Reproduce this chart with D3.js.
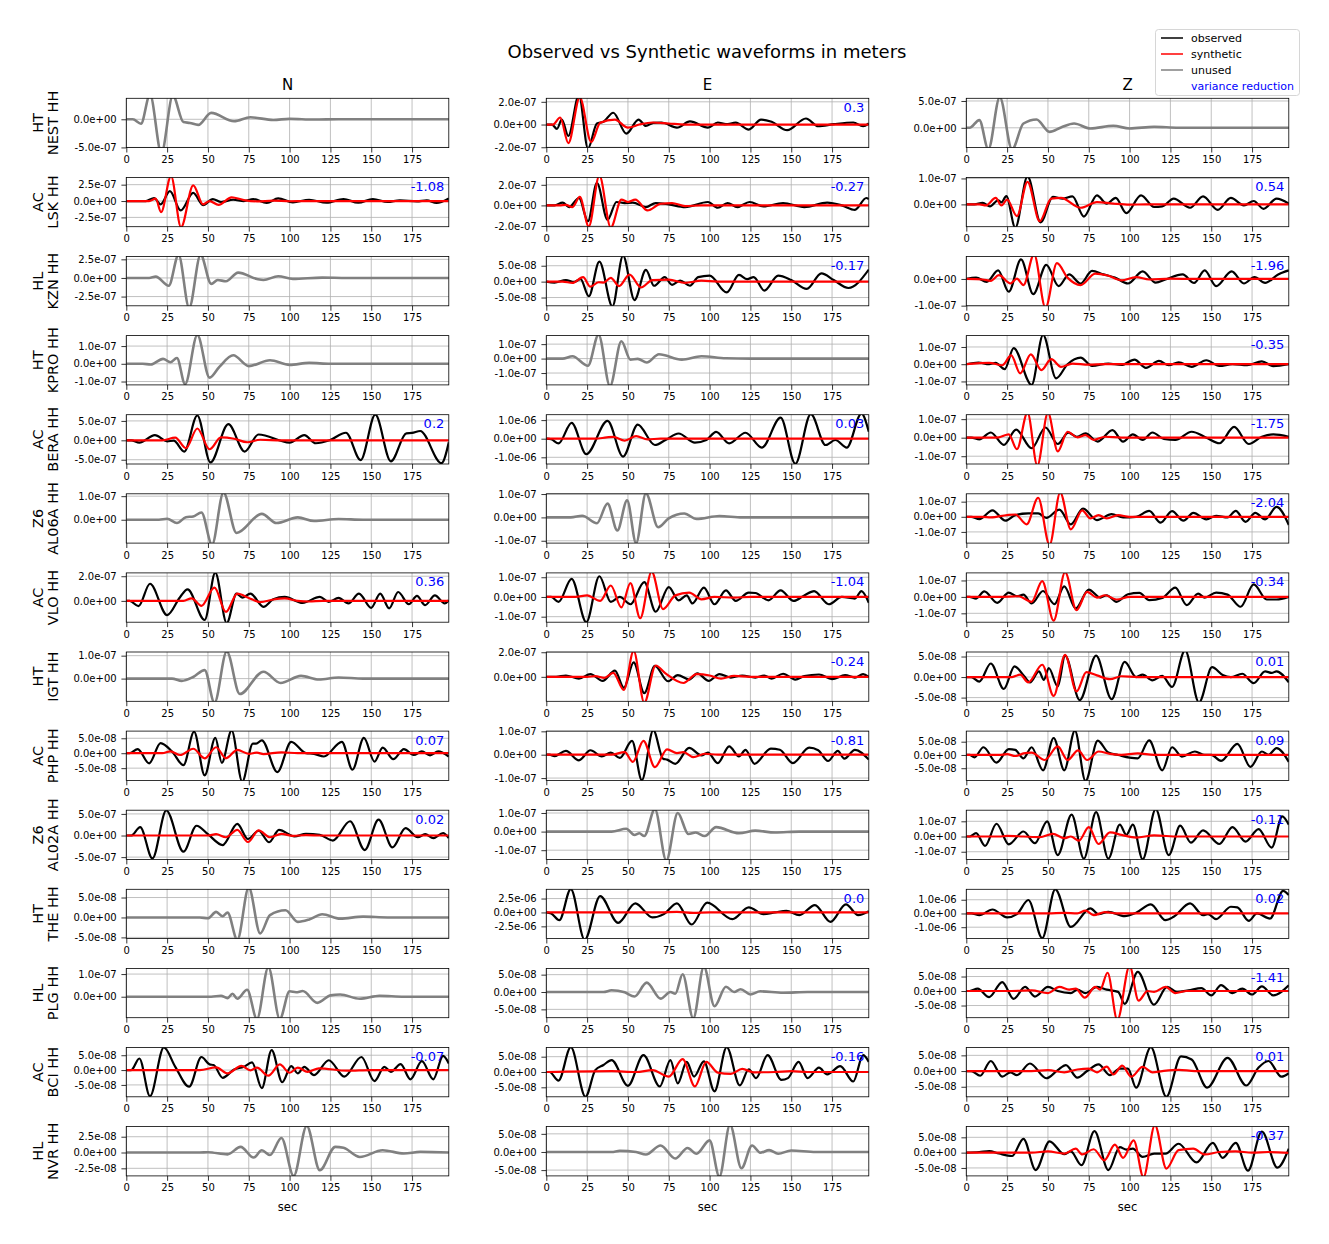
<!DOCTYPE html>
<html>
<head>
<meta charset="utf-8">
<script src="https://cdn.jsdelivr.net/npm/d3@7"></script>
<style>
  body { margin: 0; background: #fff; }
  text { font-family: "DejaVu Sans", sans-serif; }
</style>
</head>
<body>
<svg id="chart"></svg>
<script>
// waveforms: flat lists of [time (s), displacement (1e-8 m)] at the peaks
// ---- N component
const NEST_N_unused = [0,0, 4,0, 9,-7.8, 14.5,44, 21.5,-60, 28.5,42, 35,-5, 39,-6.5, 44,-10, 52,11.4, 66,-3.6, 76,3.6, 90,-1.2, 100,0.8, 115,-0.4, 130,0.2, 145,0, 197.5,0]
const LSK_N_obs = [0,0, 12,0, 17,4.6, 21,-5, 26.7,15, 33.3,-14.4, 41,12.4, 47,-6.2, 53,3, 58,-1.5, 65.5,2, 72,0, 77.8,3, 86,-3, 93,4, 102,-2, 112,2, 122.6,-2.6, 133,3, 142,-2.6, 151,3, 160,-1.5, 167.5,1, 178,-0.5, 184,1, 190,-3, 197.5,4]
const LSK_N_syn = [0,0, 14,0, 18,3.6, 21.3,-17, 27.4,38, 33.5,-40, 41,24, 47,-5, 51,0, 56.5,-6, 64.5,5.7, 72,1.5, 80,-0.5, 90,0.5, 100,-0.3, 110,0, 197.5,0]
const KZN_N_unused = [0,0, 14,0, 18,1.8, 26,-10.4, 32,31, 38.5,-40, 45.5,31, 52,-8, 56,-2.7, 61,-4.5, 68.5,7.2, 80,-1.4, 84,-2.7, 93,2.2, 102,-1.3, 120,0.5, 135,0, 197.5,0]
const KPRO_N_unused = [0,0, 10,0, 15,-0.4, 22.5,2.8, 27,0.9, 31,3.3, 36,-11.5, 43.5,16.2, 51,-7.8, 57,-1.7, 65.5,4.8, 75,-1.3, 88,2, 100,-0.6, 112,0.5, 125,0, 197.5,0]
const BERA_N_obs = [0,0, 3,0, 8,-6, 17.5,13.5, 25,-2.5, 29,-1, 35.5,-29, 43.5,64, 51.5,-57, 62.5,41.5, 72.5,-29, 81,15, 100,-6, 109,13.5, 116,-7.6, 124.5,0, 134.5,19.5, 143.5,-51, 152.5,66, 162,-54, 171.5,18, 175,19, 180,24, 193,-59, 197.5,-5]
const BERA_N_syn = [0,0, 22,0, 30,6.8, 36.5,-20, 43.5,30.5, 51,-23, 58,7.6, 66,4, 74,-5, 82,1.5, 95,0, 197.5,0]
const AL06A_N_unused = [0,0, 20,0, 25,0.4, 31,-1.4, 36.5,1.1, 41,1.4, 46,3.1, 52.5,-10.5, 59.5,11.5, 67.5,-5.6, 83,2.5, 92,-1.4, 105,1, 115,-0.5, 130,0.3, 145,0, 197.5,0]
const VLO_N_obs = [0,0, 2,0, 7.5,-4.3, 14.5,13.9, 25,-11.5, 33,3.2, 37.5,9.3, 48,-15.5, 54.5,23, 61.5,-18, 67.5,5.9, 71,2.7, 76,5.9, 84,-4.8, 90,1.3, 97,3.2, 108,-1.6, 118.5,3.2, 124,-0.8, 130,2.4, 136,-2.1, 142.5,5.9, 150,-5.6, 155.5,5.9, 161,-6.1, 166.5,7.2, 173,-2.7, 178,4, 183,-3.5, 189,4.5, 195,-2.1, 197.5,0.5]
const VLO_N_syn = [0,0, 35,0, 40,2.1, 46,-4, 54,10.7, 61,-9, 68,5.9, 75,2.4, 82,-1, 90,1.1, 97,2, 105,0, 112,-0.5, 120,0, 197.5,0]
const IGT_N_unused = [0,0, 28,0, 34,-1, 41,0.7, 48,3.7, 54,-10.5, 61.5,11.8, 69.5,-6.7, 84,3, 94.5,-1.9, 107,1.2, 118,-0.4, 130,0.5, 145,0, 197.5,0]
const PHP_N_obs = [0,0, 2,0, 7,1.4, 14,-3.4, 21,3.4, 28,0.6, 35,-4, 41.5,7.2, 48,-7.4, 54.5,5.1, 58.5,-3.2, 64.5,7.6, 71,-9.5, 77.5,3.2, 79.5,3.2, 83,4.3, 92.5,-6.3, 101,3.8, 110,0, 115,-0.2, 121,-1.1, 132,3.8, 138.5,-5.5, 145.5,5.1, 152,-2.8, 157,1.9, 163.5,-2, 170,1.4, 176,-0.6, 181,0.6, 186,-0.7, 191,0.6, 197.5,-1.1]
const PHP_N_syn = [0,0, 22,0, 27,0.6, 33,-0.6, 41,1.5, 48,-1.7, 55,2, 61,-1.7, 68,1.1, 75,-0.2, 80,0.2, 84,-0.3, 95,0.3, 105,0, 197.5,0]
const AL02A_N_obs = [0,0, 3,0, 8.5,19.5, 16,-53, 24.5,58, 35,-37.5, 43,22.6, 50,3, 59,-22, 68,27, 74.5,-8, 81,11, 87.5,-15.6, 93.5,13, 103,-2, 110,4, 118.5,1.5, 126.5,-11.7, 137,33, 146,-33.6, 154.5,36.7, 163,-27.3, 171,17.2, 178.5,-3.9, 183,3, 188,-6.2, 194,5.5, 197.5,-6]
const AL02A_N_syn = [0,0, 50,0, 55,3, 61,-4, 68,13, 74.5,-15, 81,11.7, 88,-4, 95,4, 102,-0.8, 110,1, 120,0, 197.5,0]
const THE_N_unused = [0,0, 45,0, 50,-0.2, 55,1.4, 59,0.3, 62,1.2, 68,-5.6, 75,7.5, 82,-4, 88,0.6, 97.5,1.8, 105,-1.1, 112,-0.5, 120,0.8, 131,-0.3, 145,0.2, 160,0, 197.5,0]
const PLG_N_unused = [0,0, 52,0, 58,0.4, 62,-0.6, 65,1.3, 68,-0.9, 74,3.1, 80,-9.8, 87,13, 94,-9.8, 100,2.4, 104,2, 108,2.5, 117,-2.7, 125,0.6, 131,1, 143,-0.9, 155,0.4, 170,0, 197.5,0]
const BCI_N_obs = [0,0, 3,0, 8,3.9, 14.5,-8.8, 23,7.6, 30,1.1, 38.5,-5.6, 46,4.4, 51,1.9, 53.5,1.7, 59,-2.6, 66,0.2, 72,1.1, 77,2.6, 83,-6.1, 89,6.7, 95.5,-4.1, 101,1.3, 105,-1.1, 109,1.1, 115,-1.7, 124,3.3, 133.5,-2.2, 144,4.4, 152,-3.7, 158,1.1, 162,-0.6, 168,2, 174,-3.1, 181,3, 188,-3.1, 194,4.8, 197.5,2.2]
const BCI_N_syn = [0,0, 45,0, 55,0.9, 62,-1.1, 70.5,1.4, 76,-0.1, 80,0.8, 87,-1.9, 94,1.9, 100,-0.9, 105,0.8, 111,-0.6, 118,0.6, 135,-0.2, 150,0, 197.5,0]
const NVR_N_unused = [0,0, 45,0, 50,0.05, 62,-0.3, 70,0.9, 78,-0.8, 83,0.35, 88,-0.4, 95,2.3, 102.5,-3.7, 110.5,4.2, 118.5,-2.8, 128,0.9, 133,0.75, 143,-0.7, 157,0.35, 170,-0.15, 180,0.1, 197.5,0]

// ---- E component
const NEST_E_obs = [0,0, 3.5,0, 6.5,-3.9, 9.5,4.4, 13.5,-10, 20,26, 25.5,-21, 31,0.9, 35,2.4, 41,10.4, 49,-8, 56.5,4.4, 61,-1.2, 65.5,1.5, 70.5,1.8, 80,-2.7, 88,2.7, 99,-2.7, 105,1.8, 110,0.3, 116,1.6, 124,-4.4, 131.5,4.4, 138,2.4, 147.5,-5, 159,5.3, 166.5,-1.5, 176,0.3, 188,1.8, 194,-1.5, 197.5,0.9]
const NEST_E_syn = [0,0, 4,0, 8.5,6.2, 13.5,-16.3, 20.5,24, 27.5,-15.4, 33,1.5, 42,4.4, 50,-2.7, 57,0, 65,1.8, 75,0.9, 85,0, 197.5,0]
const LSK_E_obs = [0,0, 5,0, 10,2.6, 14,-1.6, 20,7.2, 25.5,-15.4, 31,22, 37.5,-14.1, 43,3.3, 48,2.3, 53,2.6, 61,-1.6, 67,2.3, 75,1, 85,-1.6, 99,3.3, 105,-2.3, 111,2.3, 117,-1.6, 124.5,3.3, 133,-1, 145,2.3, 158,-1.6, 172,2.6, 181,0, 189,-4.3, 196,7.2, 197.5,6]
const LSK_E_syn = [0,0, 8,0, 12,0.6, 16,-1.6, 20.5,8.2, 26,-20.5, 32.5,29, 39.5,-21.5, 46,5.6, 50,3.3, 54.5,5.6, 62,-4.9, 70,1.6, 77,2.3, 85,-0.7, 95,0, 197.5,0]
const KZN_E_obs = [0,0, 5,-0.3, 12,0.5, 17,-0.1, 21,0.8, 26,-4.6, 32.5,6.3, 40.5,-7.8, 47,8.2, 54,-5.8, 61,3.7, 66,-1.3, 72.5,1.4, 77,-1, 82,0.3, 88,-1.3, 93,1.4, 100,1.9, 110.5,-3.4, 118,2.1, 123,0.8, 127,1.4, 133.5,-2.8, 142,1.9, 150,0.5, 159.5,-2.3, 168.5,2.6, 176,0.5, 185,-2, 197.5,3.8]
const KZN_E_syn = [0,0, 10,0, 16,-0.4, 22.5,1.4, 27,-1.6, 32,-0.2, 35,-0.3, 39.5,1.2, 44.5,-1.4, 51,2.2, 58,-1.8, 65,0.5, 75,0.6, 85,-0.4, 95,0.3, 105,0, 197.5,0]
const KPRO_E_unused = [0,0, 10,0, 16,1.6, 25.5,-5, 32,16.5, 39,-19, 46,12, 51.5,-0.7, 56,-0.2, 61.5,-2.7, 69,3, 83,-0.7, 95,1.6, 110,0.2, 125,0, 197.5,0]
const BERA_E_obs = [0,0, 3,-3, 7.5,-25, 15.5,85, 24.5,-83, 37.5,96, 47,-96, 56,76, 66.5,-34, 73,-7, 81,28, 91,-21, 98,-7, 104,37, 112,-25, 122,32, 132,-48, 143.5,113, 152.5,-135, 162,132, 171,-34, 177,-7, 184,-48, 193,135, 197.5,37]
const BERA_E_syn = [0,0, 30,0, 37,7, 41,10, 48,-10.6, 55,14, 62,-3.5, 70,0, 197.5,0]
const AL06A_E_unused = [0,0, 15,0, 22,0.7, 31,-2.5, 37.5,5.9, 43.5,-5.6, 49.5,7.3, 55,-11, 61,10.3, 68.5,-4.2, 75,-0.4, 84.5,1.7, 92,-0.7, 106,0.6, 120,0, 197.5,0]
const VLO_E_obs = [0,0, 3,0, 7.5,-2.5, 15.5,9.2, 24.5,-12.8, 32.5,10.5, 39.5,-2.5, 45,0, 51.5,-3.7, 60,7.5, 67,-7.5, 75,5, 81,-1.7, 86,0.8, 89.5,-3.3, 96.5,4.7, 103,-3.7, 110,3.3, 116,-2, 124,2.2, 128,2, 136,-1.7, 143.5,3.3, 151.5,-2, 158,0.8, 164,3, 173,-3.7, 181,0, 189,-0.8, 193,3, 197.5,-3]
const VLO_E_syn = [0,0, 18,0, 25,0.8, 33,-2, 39.5,5.8, 46,-5.3, 51.5,7, 57.5,-10.8, 64.5,12.8, 71.5,-6.2, 79,0.8, 87.5,2.2, 95,-1.2, 103,0, 115,-0.3, 125,0, 197.5,0]
const IGT_E_obs = [0,0, 6,0, 12,1.1, 20,-1.4, 27,2.2, 34.5,-3.3, 42,5, 47.5,-8.9, 53.5,11.7, 60,-13.3, 66.5,8.9, 74.5,-3.6, 80.5,1.4, 87.5,-2.2, 92.5,2.8, 99.5,-3.3, 106,2.2, 113,-0.6, 120,1.1, 128,-0.6, 133.5,1.1, 138,-1.4, 145,2.5, 152.5,-2.2, 158,0.6, 167,1.9, 175,-1.9, 183,1.4, 189,-0.6, 194,2.2, 197.5,0]
const IGT_E_syn = [0,0, 25,0, 30,0.6, 35.5,-0.8, 41,3.3, 47.5,-10.6, 53.5,21, 60,-21, 67,9.2, 73,2.8, 84,-5, 92,2.2, 100,1.1, 107,-1.4, 115,0.8, 125,0, 197.5,0]
const PHP_E_obs = [0,0, 2,0, 5,-0.6, 12,1.6, 20,-2.4, 27,1.9, 34,-0.7, 39.5,0.9, 45,-1.4, 52.5,5.9, 58.5,-10.9, 65.5,10.5, 71.5,-1.7, 74,-2.1, 79,-3.9, 87.5,2.9, 95,-0.3, 99,0.9, 105,-3.6, 112,3.6, 118,-0.7, 122,2.1, 127.5,-3.9, 137.5,2.6, 143,2.1, 151,-3.6, 161,3, 166.5,1.9, 172.5,-2.7, 178.5,1.6, 182.5,-1.7, 189,2.1, 197.5,-2.1]
const PHP_E_syn = [0,0, 40,0, 48,1.1, 53,-3.1, 59.5,5.9, 66.5,-5.3, 74,2.3, 80,0.7, 84,1.1, 90,-1, 97,0.4, 105,0, 197.5,0]
const AL02A_E_unused = [0,0, 40,0, 49,1.5, 54,-1.8, 57,-0.9, 60,-2.4, 66.5,12, 73.5,-15.5, 80.5,10, 87,-1.3, 91.5,-0.5, 97,-2.4, 104,2.4, 118,-0.9, 128,0.5, 140,-0.5, 155,0, 197.5,0]
const THE_E_obs = [0,0, 3,-18, 8,-139, 15,420, 23.5,-490, 33,295, 44,-187, 54.5,163, 65,-90, 72,-30, 80,163, 89,-217, 98.5,175, 114,-120, 124,90, 133,-30, 140,0, 147,30, 155,-48, 164.5,133, 174,-169, 183.5,145, 191,-48, 197.5,24]
const THE_E_syn = [0,0, 70,0, 80,12, 90,-6, 100,0, 197.5,0]
const PLG_E_unused = [0,0, 35,0, 40,0.5, 48,-0.1, 54,-1.3, 61.5,2.7, 70,-1.9, 76,0, 79,-0.5, 83.5,5.1, 90,-7.6, 96.5,7.3, 103,-4.1, 110,1.5, 115,0, 119,0.8, 125,-0.7, 131,0.2, 145,-0.2, 160,0, 197.5,0]
const BCI_E_obs = [0,0, 2,0, 7.5,-2.8, 15,8.1, 24,-8.1, 30,0.6, 35,2.3, 40,3.9, 50,-4.5, 59.5,5.5, 69.5,-4.7, 76,3.9, 80.5,-3.7, 86,3.3, 90.5,-1.5, 96.5,3.5, 103,-6.3, 110.5,8.1, 118.5,-4.4, 124,0.9, 128.5,-2, 135.5,5.5, 144,-2.6, 148,-2, 154.5,3.3, 160,-2, 167,1.4, 172,-0.8, 180,1.9, 188,-3.1, 194,5.5, 197.5,3.3]
const BCI_E_syn = [0,0, 40,0.3, 55,0, 65,0.6, 75,-1.5, 83.5,4.2, 91,-4.7, 98,3.3, 105,-0.2, 113,-0.6, 120,1, 127,-0.1, 140,0, 150,0.3, 160,0, 197.5,0]
const NVR_E_unused = [0,0, 40,0, 45,0.3, 55,0, 61,-0.7, 70,1.8, 79,-1.8, 86.5,1.1, 92,-0.5, 100,3.2, 106,-6.8, 112.5,7.5, 119.5,-4.5, 126,1.8, 131,-0.2, 136.5,0.5, 142,-0.5, 150,0.4, 165,0, 197.5,0]

// ---- Z component
const NEST_Z_unused = [0,0, 2,0, 8,14.4, 13.5,-40, 20.5,57, 28,-40, 35,8, 43,15.6, 51,-7.5, 58,0.6, 66,8, 76,-1.2, 90,3.7, 100,-1.2, 115,1.8, 130,0, 197.5,0]
const LSK_Z_obs = [0,0, 5,0, 10,0.6, 14.5,-0.8, 19.5,1.6, 21.5,0.8, 24.5,3.2, 30,-9, 37.5,10.8, 45.5,-6.9, 53,2.9, 59,2.2, 65,3.1, 72,-4.7, 80,3.5, 86,0.3, 91.5,2.5, 98,-3.4, 107,3.5, 115,-1, 120,-0.8, 127,2.2, 137,-1.3, 145,3.1, 154,-2.1, 162,2.5, 170,-0.4, 176,1.3, 182,-1.7, 190,2.2, 197.5,0.3]
const LSK_Z_syn = [0,0, 8,0, 12,-0.4, 18,2.5, 21.5,-0.4, 25,1.8, 31,-4.5, 37.5,8.7, 45,-6.5, 52,2.2, 58,2.5, 70,-1.3, 80,0.9, 90,0.3, 100,-0.1, 110,0, 197.5,0]
const KZN_Z_obs = [0,0, 6,0.5, 12.5,-1.1, 19.5,3.2, 26,-4.8, 33.5,7.3, 41,-5.7, 49,5.3, 56.5,-2.7, 63,1.7, 70,-1.7, 77,3, 84,1.7, 91,0.5, 99,-1.7, 108,2.8, 116,-1.4, 122,-0.2, 132.5,1.7, 139.5,-1.5, 146,3.2, 153,-2.7, 162.5,2.8, 170,-1.7, 176.5,0.7, 183,-1.5, 191,1.7, 197.5,3.2]
const KZN_Z_syn = [0,0, 10,-0.2, 15,-0.7, 20,1.4, 27,-1.7, 31,0.1, 35,-2.3, 41.5,9.2, 48.5,-10.8, 55.5,5.9, 62,0.5, 70,-2.3, 79,2, 86,1.4, 95,-0.5, 104,0.7, 112,-0.2, 125,0.1, 140,0, 197.5,0]
const KPRO_Z_obs = [0,0, 7.5,1, 14,0, 18,0.8, 23.5,-2.9, 29,9.3, 40,-12, 47,17, 55,-8.2, 62,0, 70,3.8, 77,-1, 87,0.4, 95,-0.4, 103,2.7, 110,-2.1, 118,1.9, 124,-0.6, 130,1.1, 138,-1.5, 147,2.3, 155,-1, 163,0, 172,-0.6, 181,1.7, 188,-1.1, 197.5,0]
const KPRO_Z_syn = [0,0, 14,0.8, 22,-0.6, 27.5,5.1, 33,-5.3, 39.5,5.7, 46,-3.4, 52,2.9, 58,-1.5, 65,0.4, 75,-0.2, 85,0, 197.5,0]
const BERA_Z_obs = [0,0, 3,0, 8,-0.9, 15,2.8, 23,-3.9, 30.5,4.4, 40,-5.7, 48.5,5.5, 56,-3.4, 62.5,2.7, 67.5,0.5, 73,2.3, 80.5,-2.1, 89.5,4.1, 96,-2.1, 102,1.8, 108,-1.2, 114,2.8, 121,-0.7, 128,-1.2, 138,3.2, 147,0, 155,-3, 164,5.8, 173,-3.4, 181,0.5, 188,1.8, 197.5,0.5]
const BERA_Z_syn = [0,0, 15,0, 20,0.2, 26,1.8, 31,-6.2, 37.5,13.5, 43.5,-15, 50,13.5, 56,-7.4, 62,3.2, 68,0.2, 73,1.4, 78,-1.2, 85,0.5, 95,0, 197.5,0]
const AL06A_Z_obs = [0,0, 3,0, 8,-1.5, 16,4.3, 24,-2.6, 30,1.1, 38,2.2, 44,2.2, 49,-0.7, 57,4.8, 64,-5, 71.5,5.4, 80,-2.2, 89,1.7, 96,-0.4, 104,0, 112,3.9, 119,-3.9, 126,3.7, 133,-2.6, 139,2.6, 147,-1.7, 153,0.7, 160,-0.4, 165,3.9, 171,-3.3, 177,2.6, 183,-1.7, 190,6.5, 197.5,-5.4]
const AL06A_Z_syn = [0,0, 10,0, 15,-0.4, 25,1.1, 30,1.5, 37,-5, 44,12.6, 51,-18.5, 57.5,16, 64,-8.3, 71,4.3, 76,-1.1, 81,1.1, 86,-1.1, 93,1.1, 100,0, 197.5,0]
const VLO_Z_obs = [0,0, 2,0, 6,-1, 11,3.4, 19,-3.6, 26,2.6, 31,0.4, 35,1.4, 40,-4, 47,3.6, 54,-4.4, 60,6.4, 67,-7, 75,4.4, 82,-0.4, 86,1, 92,-3, 99,1.6, 106,2.4, 112,-2, 120,-0.6, 128,5.6, 135,-5, 142,2, 146,-0.4, 153,2.6, 160,1.4, 168,-6, 176,7.6, 184,-1.6, 190,-1.6, 197.5,0]
const VLO_Z_syn = [0,0, 20,0, 32,0.4, 40,-3, 46.5,9.6, 53.5,-14.4, 60.5,15, 67.5,-8, 74,3, 80,-0.4, 85,1, 92,-1.6, 100,0, 197.5,0]
const IGT_Z_obs = [0,0, 3,0, 8,-1.1, 15,3.3, 23,-2.9, 29.5,2.6, 35.5,0.2, 39,-1.3, 44.5,1.4, 47.5,-0.7, 50.5,2.2, 56,-2.3, 60.5,5.2, 69.5,-5.6, 79.5,5.2, 89,-5.4, 97,3.7, 104,0, 108,0.6, 114,-0.8, 120,0.3, 126,-2.4, 134,6.5, 142.5,-6.2, 150.5,2.4, 157,0.5, 162,0, 169,0.8, 176,-1.5, 183,1.4, 187,1, 190,1.4, 197.5,-1.3]
const IGT_Z_syn = [0,0, 28,0, 33,0.6, 38,-1.3, 46.5,3, 53.5,-4.6, 60.5,5.4, 67.5,-3.5, 73.5,1.2, 80,0.4, 88,-0.5, 95,0.2, 105,0, 197.5,0]
const PHP_Z_obs = [0,0, 2,0, 5,-0.9, 10.5,2.9, 18.5,-2.9, 26,2.2, 30,1.9, 35,-1.3, 40,2.9, 47,-5.8, 53.5,6.4, 60,-5.8, 66.5,9.2, 73,-9.8, 80.5,5.4, 87,0.9, 93,0, 100,-1, 105,-1.3, 112,5.5, 120,-5.8, 126,2.9, 132,-0.6, 140,1.3, 146,0, 150,0, 156,-2.2, 166,4.2, 174,-4.5, 181,1.3, 185,0, 190,2.6, 197.5,-2.6]
const PHP_Z_syn = [0,0, 20,0, 25,0.3, 30,-0.4, 35,0.6, 40,0.9, 48,-1.9, 56,3.2, 62,-1.9, 68.5,1.7, 74,-1.9, 81,1.3, 88,0.4, 95,0, 105,0.6, 115,0, 197.5,0]
const AL02A_Z_obs = [0,0, 2,0, 6,2.2, 11.5,-6.2, 18.5,8.4, 26,-5.1, 35,3.3, 42,-4.4, 49.5,10, 56,-12.2, 64.5,14.4, 72,-14.5, 79.5,16, 87,-14.5, 94,7.8, 98,1.1, 102,7.8, 108,-15, 116,18, 124,-12.2, 131,7.1, 137.5,-4, 145,4, 155,-4.9, 163,6.2, 171,-3.3, 179,4.9, 187,-7.3, 193.5,13.3, 197.5,7.8]
const AL02A_Z_syn = [0,0, 20,0, 25,0.4, 35,0, 45,-0.4, 53,1.8, 60,-1.1, 64,0, 69,-2.7, 75,6.2, 81,-4.9, 88,2.7, 95,1.1, 104,-0.7, 115,0.7, 130,0, 197.5,0]
const THE_Z_obs = [0,0, 3,0, 8,-12, 16,29, 25,-29, 31,-5, 38,98, 46.5,-180, 54.5,176, 64,-98, 76,37, 81,-5, 87,12, 97,-20, 104,5, 113,66, 122,-49, 127,-24, 137,73, 145,-12, 148,-5, 153,-41, 162,49, 166,44, 173,-54, 178,0, 186,-37, 194,165, 197.5,134]
const THE_Z_syn = [0,0, 50,0, 60,5, 68,0, 73,20, 78,-12, 85,10, 92,0, 197.5,0]
const PLG_Z_obs = [0,0, 2,0, 7,0.8, 14,-2.1, 22,3.1, 29,-2.7, 36,1.4, 42,-1.9, 50,1.4, 56,0, 64,-0.7, 68,0.5, 73,-0.7, 80,1.4, 86,0.5, 93,-0.3, 97,-4.4, 105,6.6, 115,-4.7, 123,1.4, 129,-0.3, 136,0.2, 144,1, 150,-1.5, 156,2, 163,-0.7, 169,0.8, 175,-1.2, 181,1.6, 188,-1.5, 197.5,2]
const PLG_Z_syn = [0,0, 25,0, 40,0.2, 50,-0.7, 57,1.4, 63,0.5, 67,0.8, 72.5,-2.3, 79,1.4, 82,0.5, 86.5,6.3, 92.5,-10, 100,8.6, 105.5,-3.3, 111,0, 115,-0.3, 122,1.4, 128,-0.7, 135,0, 197.5,0]
const BCI_Z_obs = [0,0, 3,0, 8.5,-1.5, 15,3.2, 22,-1.8, 27,-0.4, 31,-1.3, 39,2.4, 49,-2.3, 56,0.3, 61,1.9, 68,-2.1, 74,0, 81,2.1, 88,-1.3, 94,0.8, 99,0.8, 104,-5.3, 113,7.6, 122.5,-8.2, 131.5,4.7, 138,3.7, 147.5,-5.3, 160,4.2, 171.5,-4.6, 179,1.1, 185,3.2, 193,-1.8, 197.5,-0.7]
const BCI_Z_syn = [0,0, 40,0, 50,0.3, 60,-0.4, 68,0.5, 75,0.8, 80,-0.4, 86,1.4, 90,-1.1, 95.5,1.7, 101,-1.8, 108,1.3, 114,-0.4, 120,0, 130,0.4, 140,0, 197.5,0]
const NVR_Z_obs = [0,0, 8,0.2, 14,0.5, 20,-0.3, 28,-1.1, 35,4.5, 42.5,-5.7, 51,3.7, 60,-0.5, 64,0.4, 70.5,-4.1, 78.5,7, 87,-5.7, 94,1.8, 98,1, 102,1.3, 108,-1.4, 115,-0.3, 122,-0.3, 130,2.9, 141,-3.2, 151,3.2, 157,-1.7, 165,3.2, 172.5,-5.9, 181,6.9, 190.5,-4.9, 197.5,1.3]
const NVR_Z_syn = [0,0, 40,0, 50,0.4, 60,-0.3, 67,1.3, 71,-0.6, 78,1.1, 84.5,-2.5, 91,2.6, 96,-1.7, 102.5,4, 108.5,-8, 115.5,9, 122.5,-5.2, 130,0.8, 139,1.3, 146,-0.6, 155,0.2, 165,0.4, 175,0, 185,0.2, 197.5,-0.1]

// stations, networks, components
const stations = ['NEST', 'LSK', 'KZN', 'KPRO', 'BERA', 'AL06A', 'VLO', 'IGT', 'PHP', 'AL02A', 'THE', 'PLG', 'BCI', 'NVR']
const networks = ['HT', 'AC', 'HL', 'HT', 'AC', 'Z6', 'AC', 'HT', 'AC', 'Z6', 'HT', 'HL', 'AC', 'HL']
const components = ['N', 'E', 'Z']

// y limits [min, max] and tick values, in 1e-8 m
const limN = [[-50.3,37.3],[-39.2,36.1],[-37.4,28.8],[-11.9,15.9],[-61,66],[-9.9,11],[-17.3,22.7],[-9.9,11.6],[-9.1,7.4],[-55.5,58.6],[-5.3,7.06],[-9.25,12.5],[-9,7.6],[-3.7,4.1]]
const limE = [[-20.3,23.1],[-20.7,27.2],[-7.6,7.9],[-18.2,15.9],[-136,129],[-11,10.1],[-12.8,12.2],[-19.9,20.2],[-11,10.1],[-15,11.5],[-470,416],[-7.4,6.8],[-8.1,8],[-6.6,7]]
const limZ = [[-36.9,55],[-8.6,10.4],[-10.05,8.4],[-12,16.6],[-14.2,12.4],[-17.4,15.2],[-15.4,14.6],[-5.9,6.1],[-9.6,9],[-15.1,17.3],[-183,176],[-9.2,7.8],[-8.2,7.5],[-7.6,8.5]]
const ticksN = [[-50,0],[-25,0,25],[-25,0,25],[-10,0,10],[-50,0,50],[0,10],[0,20],[0,10],[-5,0,5],[-50,0,50],[-5,0,5],[0,10],[-5,0,5],[-2.5,0,2.5]]
const ticksE = [[-20,0,20],[-20,0,20],[-5,0,5],[-10,0,10],[-100,0,100],[-10,0,10],[-10,0,10],[0,20],[-10,0,10],[-10,0,10],[-250,0,250],[-5,0,5],[-5,0,5],[-5,0,5]]
const ticksZ = [[0,50],[0,10],[-10,0],[-10,0,10],[-10,0,10],[-10,0,10],[-10,0,10],[-5,0,5],[-5,0,5],[-10,0,10],[-100,0,100],[-5,0,5],[-5,0,5],[-5,0,5]]
const xTicks = [0, 25, 50, 75, 100, 125, 150, 175]

// variance reduction labels (null = component not used)
const vrN = [null, '-1.08', null, null, '0.2', null, '0.36', null, '0.07', '0.02', null, null, '-0.07', null]
const vrE = ['0.3', '-0.27', '-0.17', null, '0.03', null, '-1.04', '-0.24', '-0.81', null, '0.0', null, '-0.16', null]
const vrZ = [null, '0.54', '-1.96', '-0.35', '-1.75', '-2.04', '-0.34', '0.01', '0.09', '-0.11', '0.02', '-1.41', '0.01', '-0.37']

const legendLabels = ['observed', 'synthetic', 'unused', 'variance reduction']

// panel table built from the named arrays
const traces = {
    N: [{unused: NEST_N_unused}, {obs: LSK_N_obs, syn: LSK_N_syn}, {unused: KZN_N_unused}, {unused: KPRO_N_unused},
        {obs: BERA_N_obs, syn: BERA_N_syn}, {unused: AL06A_N_unused}, {obs: VLO_N_obs, syn: VLO_N_syn}, {unused: IGT_N_unused},
        {obs: PHP_N_obs, syn: PHP_N_syn}, {obs: AL02A_N_obs, syn: AL02A_N_syn}, {unused: THE_N_unused}, {unused: PLG_N_unused},
        {obs: BCI_N_obs, syn: BCI_N_syn}, {unused: NVR_N_unused}],
    E: [{obs: NEST_E_obs, syn: NEST_E_syn}, {obs: LSK_E_obs, syn: LSK_E_syn}, {obs: KZN_E_obs, syn: KZN_E_syn}, {unused: KPRO_E_unused},
        {obs: BERA_E_obs, syn: BERA_E_syn}, {unused: AL06A_E_unused}, {obs: VLO_E_obs, syn: VLO_E_syn}, {obs: IGT_E_obs, syn: IGT_E_syn},
        {obs: PHP_E_obs, syn: PHP_E_syn}, {unused: AL02A_E_unused}, {obs: THE_E_obs, syn: THE_E_syn}, {unused: PLG_E_unused},
        {obs: BCI_E_obs, syn: BCI_E_syn}, {unused: NVR_E_unused}],
    Z: [{unused: NEST_Z_unused}, {obs: LSK_Z_obs, syn: LSK_Z_syn}, {obs: KZN_Z_obs, syn: KZN_Z_syn}, {obs: KPRO_Z_obs, syn: KPRO_Z_syn},
        {obs: BERA_Z_obs, syn: BERA_Z_syn}, {obs: AL06A_Z_obs, syn: AL06A_Z_syn}, {obs: VLO_Z_obs, syn: VLO_Z_syn}, {obs: IGT_Z_obs, syn: IGT_Z_syn},
        {obs: PHP_Z_obs, syn: PHP_Z_syn}, {obs: AL02A_Z_obs, syn: AL02A_Z_syn}, {obs: THE_Z_obs, syn: THE_Z_syn}, {obs: PLG_Z_obs, syn: PLG_Z_syn},
        {obs: BCI_Z_obs, syn: BCI_Z_syn}, {obs: NVR_Z_obs, syn: NVR_Z_syn}]
}
const limits = {N: limN, E: limE, Z: limZ}
const yTicks = {N: ticksN, E: ticksE, Z: ticksZ}
const vr = {N: vrN, E: vrE, Z: vrZ}

const w = 1329
const h = 1244
const colLeft = [126.3, 546.3, 966.3]
const panelW = 322.5
const panelH = 49.3
const rowTop0 = 98.3
const rowStep = 79.1
const UNIT = 1e-8

const svg = d3.select('#chart').attr('width', w).attr('height', h)
svg.append('rect').attr('width', w).attr('height', h).attr('fill', '#fff')

// matplotlib-like '%.1e' labels
function sci(v) {
    if (Math.abs(v) < 1e-30) return '0.0e+00'
    let e = Math.floor(Math.log10(Math.abs(v)) + 1e-9)
    let m = v / Math.pow(10, e)
    return m.toFixed(1) + 'e' + (e < 0 ? '-' : '+') + String(Math.abs(e)).padStart(2, '0')
}

const toPairs = arr => d3.range(0, arr.length, 2).map(i => [arr[i], arr[i + 1] * UNIT])

svg.append('text')
    .attr('x', 707).attr('y', 58)
    .attr('text-anchor', 'middle')
    .style('font-size', '18px')
    .text('Observed vs Synthetic waveforms in meters')

components.forEach((comp, c) => {
    const left = colLeft[c]
    const x = d3.scaleLinear().domain([0, 197.5]).range([left, left + panelW])

    svg.append('text')
        .attr('x', left + panelW / 2).attr('y', 90)
        .attr('text-anchor', 'middle')
        .style('font-size', '15px')
        .text(comp)

    stations.forEach((st, r) => {
        const top = rowTop0 + r * rowStep
        const lim = limits[comp][r]
        const y = d3.scaleLinear().domain([lim[0] * UNIT, lim[1] * UNIT]).range([top + panelH, top])
        const g = svg.append('g')
        const clipId = `clip-${comp}-${r}`
        g.append('clipPath').attr('id', clipId)
            .append('rect').attr('x', left).attr('y', top).attr('width', panelW).attr('height', panelH)

        // grid
        const ticks = yTicks[comp][r].map(t => t * UNIT)
        g.selectAll('.gx').data(xTicks).enter().append('line')
            .attr('x1', d => x(d)).attr('x2', d => x(d))
            .attr('y1', top).attr('y2', top + panelH)
            .attr('stroke', '#b0b0b0').attr('stroke-width', 0.8)
        g.selectAll('.gy').data(ticks).enter().append('line')
            .attr('x1', left).attr('x2', left + panelW)
            .attr('y1', d => y(d)).attr('y2', d => y(d))
            .attr('stroke', '#b0b0b0').attr('stroke-width', 0.8)

        const line = d3.line().x(d => x(d[0])).y(d => y(d[1])).curve(d3.curveMonotoneX)
        const tr = traces[comp][r]
        const lines = g.append('g').attr('clip-path', `url(#${clipId})`)
        if (tr.unused) {
            lines.append('path').attr('d', line(toPairs(tr.unused)))
                .attr('fill', 'none').attr('stroke', '#808080').attr('stroke-width', 2.6)
        } else {
            lines.append('path').attr('d', line(toPairs(tr.obs)))
                .attr('fill', 'none').attr('stroke', '#000').attr('stroke-width', 2.2)
            lines.append('path').attr('d', line(toPairs(tr.syn)))
                .attr('fill', 'none').attr('stroke', '#ff0000').attr('stroke-width', 2.2)
        }

        if (vr[comp][r] !== null) {
            g.append('text')
                .attr('x', left + panelW - 4.5).attr('y', top + 13.5)
                .attr('text-anchor', 'end')
                .attr('fill', '#0000ff')
                .style('font-size', '13px')
                .text(vr[comp][r])
        }

        // axes
        const yAxis = d3.axisLeft(y).tickValues(ticks).tickFormat(sci).tickSize(4.9).tickPadding(4.8)
        const ya = g.append('g').attr('transform', `translate(${left},0)`).call(yAxis)
        const xAxis = d3.axisBottom(x).tickValues(xTicks).tickFormat(d3.format('d')).tickSize(4.9).tickPadding(3.5)
        const xa = g.append('g').attr('transform', `translate(0,${top + panelH})`).call(xAxis)
        ;[ya, xa].forEach(a => {
            a.select('.domain').remove()
            a.selectAll('text').style('font-size', '10px').style('font-family', '"DejaVu Sans", sans-serif').attr('fill', '#000')
            a.selectAll('line').attr('stroke', '#000').attr('stroke-width', 0.8)
        })

        g.append('rect')
            .attr('x', left).attr('y', top).attr('width', panelW).attr('height', panelH)
            .attr('fill', 'none').attr('stroke', '#000').attr('stroke-width', 0.8)

        if (c === 0) {
            const lab = svg.append('text')
                .attr('transform', `translate(58,${top + panelH / 2}) rotate(-90)`)
                .attr('text-anchor', 'middle')
                .style('font-size', '14.5px')
            lab.append('tspan').attr('x', 0).attr('y', -15).text(networks[r])
            lab.append('tspan').attr('x', 0).attr('y', 0).text(`${st} HH`)
        }
        if (r === stations.length - 1) {
            svg.append('text')
                .attr('x', left + panelW / 2).attr('y', top + panelH + 35)
                .attr('text-anchor', 'middle')
                .style('font-size', '11.5px')
                .text('sec')
        }
    })
})

// legend
const legend = svg.append('g')
legend.append('rect')
    .attr('x', 1155.5).attr('y', 29.5).attr('width', 144).attr('height', 66).attr('rx', 3)
    .attr('fill', '#fff').attr('fill-opacity', 0.8).attr('stroke', '#cccccc').attr('stroke-width', 0.8)
const legendColors = ['#000', '#ff0000', '#808080', null]
legendLabels.forEach((lbl, i) => {
    const yy = 38 + i * 16
    if (legendColors[i]) {
        legend.append('line').attr('x1', 1161).attr('x2', 1183).attr('y1', yy).attr('y2', yy)
            .attr('stroke', legendColors[i]).attr('stroke-width', 1.5)
    }
    legend.append('text').attr('x', 1191).attr('y', yy + 4)
        .attr('fill', legendColors[i] ? '#000' : '#0000ff')
        .style('font-size', '11px')
        .text(lbl)
})
</script>
</body>
</html>
